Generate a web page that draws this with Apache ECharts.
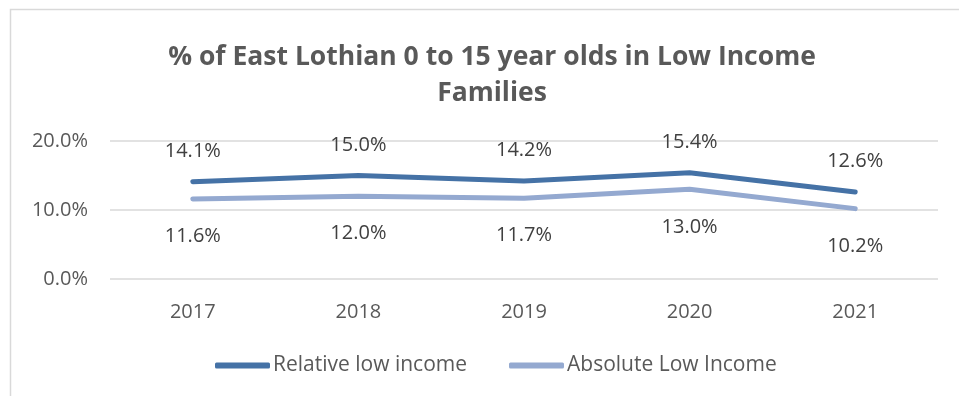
<!DOCTYPE html>
<html>
<head>
<meta charset="utf-8">
<script src="https://cdn.jsdelivr.net/npm/echarts@6/dist/echarts.min.js"></script>
<style>html,body{margin:0;padding:0;background:#fff}#c{width:959px;height:396px}</style>
</head>
<body>
<div id="c"></div>
<script>
const years = ['2017','2018','2019','2020','2021'];
const relative = [14.1, 15.0, 14.2, 15.4, 12.6];
const absolute = [11.6, 12.0, 11.7, 13.0, 10.2];
const yTicks = [0, 10, 20];

const FONT = 'Open Sans';
const chart = echarts.init(document.getElementById('c'));
chart.setOption({
  animation: false,
  graphic: [{
    type: 'rect', shape: {x: 10.5, y: 9.5, width: 1000, height: 500},
    style: {fill: 'none', stroke: '#d9d9d9', lineWidth: 1.5}, silent: true
  }],
  title: {
    text: '% of East Lothian 0 to 15 year olds in Low Income\nFamilies',
    left: 487, top: 34, textAlign: 'center',
    textStyle: {fontFamily: FONT, fontWeight: 'bold', fontSize: 26.5, color: '#595959', lineHeight: 36}
  },
  legend: {
    top: 350, left: 210, itemGap: 42, itemWidth: 55, itemHeight: 6,
    icon: 'roundRect',
    textStyle: {fontFamily: FONT, fontSize: 21, color: '#595959', padding: [0,0,0,-2]},
    data: ['Relative low income', 'Absolute Low Income']
  },
  grid: {left: 110, right: 21, top: 141, height: 138, containLabel: false},
  xAxis: {
    type: 'category', data: years, boundaryGap: true,
    axisLine: {show: false}, axisTick: {show: false},
    axisLabel: {fontFamily: FONT, fontSize: 20, color: '#595959', margin: 23}
  },
  yAxis: {
    type: 'value', min: yTicks[0], max: yTicks[yTicks.length-1], interval: 10,
    axisLine: {show: false}, axisTick: {show: false},
    axisLabel: {fontFamily: FONT, fontSize: 20, color: '#595959', margin: 22,
      formatter: v => v.toFixed(1) + '%'},
    splitLine: {lineStyle: {color: '#d9d9d9', width: 1.5}}
  },
  series: [
    {
      name: 'Relative low income', type: 'line', data: relative,
      symbol: 'circle', symbolSize: 1, showSymbol: true,
      lineStyle: {width: 5, color: '#4572a6', cap: 'round', join: 'round'},
      itemStyle: {color: '#4572a6'},
      label: {show: true, position: 'top', distance: 20, fontFamily: FONT, fontSize: 20, color: '#404040',
        formatter: p => p.value.toFixed(1) + '%'}
    },
    {
      name: 'Absolute Low Income', type: 'line', data: absolute,
      symbol: 'circle', symbolSize: 1, showSymbol: true,
      lineStyle: {width: 5, color: '#94a9d0', cap: 'round', join: 'round'},
      itemStyle: {color: '#94a9d0'},
      label: {show: true, position: 'bottom', distance: 27, fontFamily: FONT, fontSize: 20, color: '#404040',
        formatter: p => p.value.toFixed(1) + '%'}
    }
  ]
});
</script>
</body>
</html>
